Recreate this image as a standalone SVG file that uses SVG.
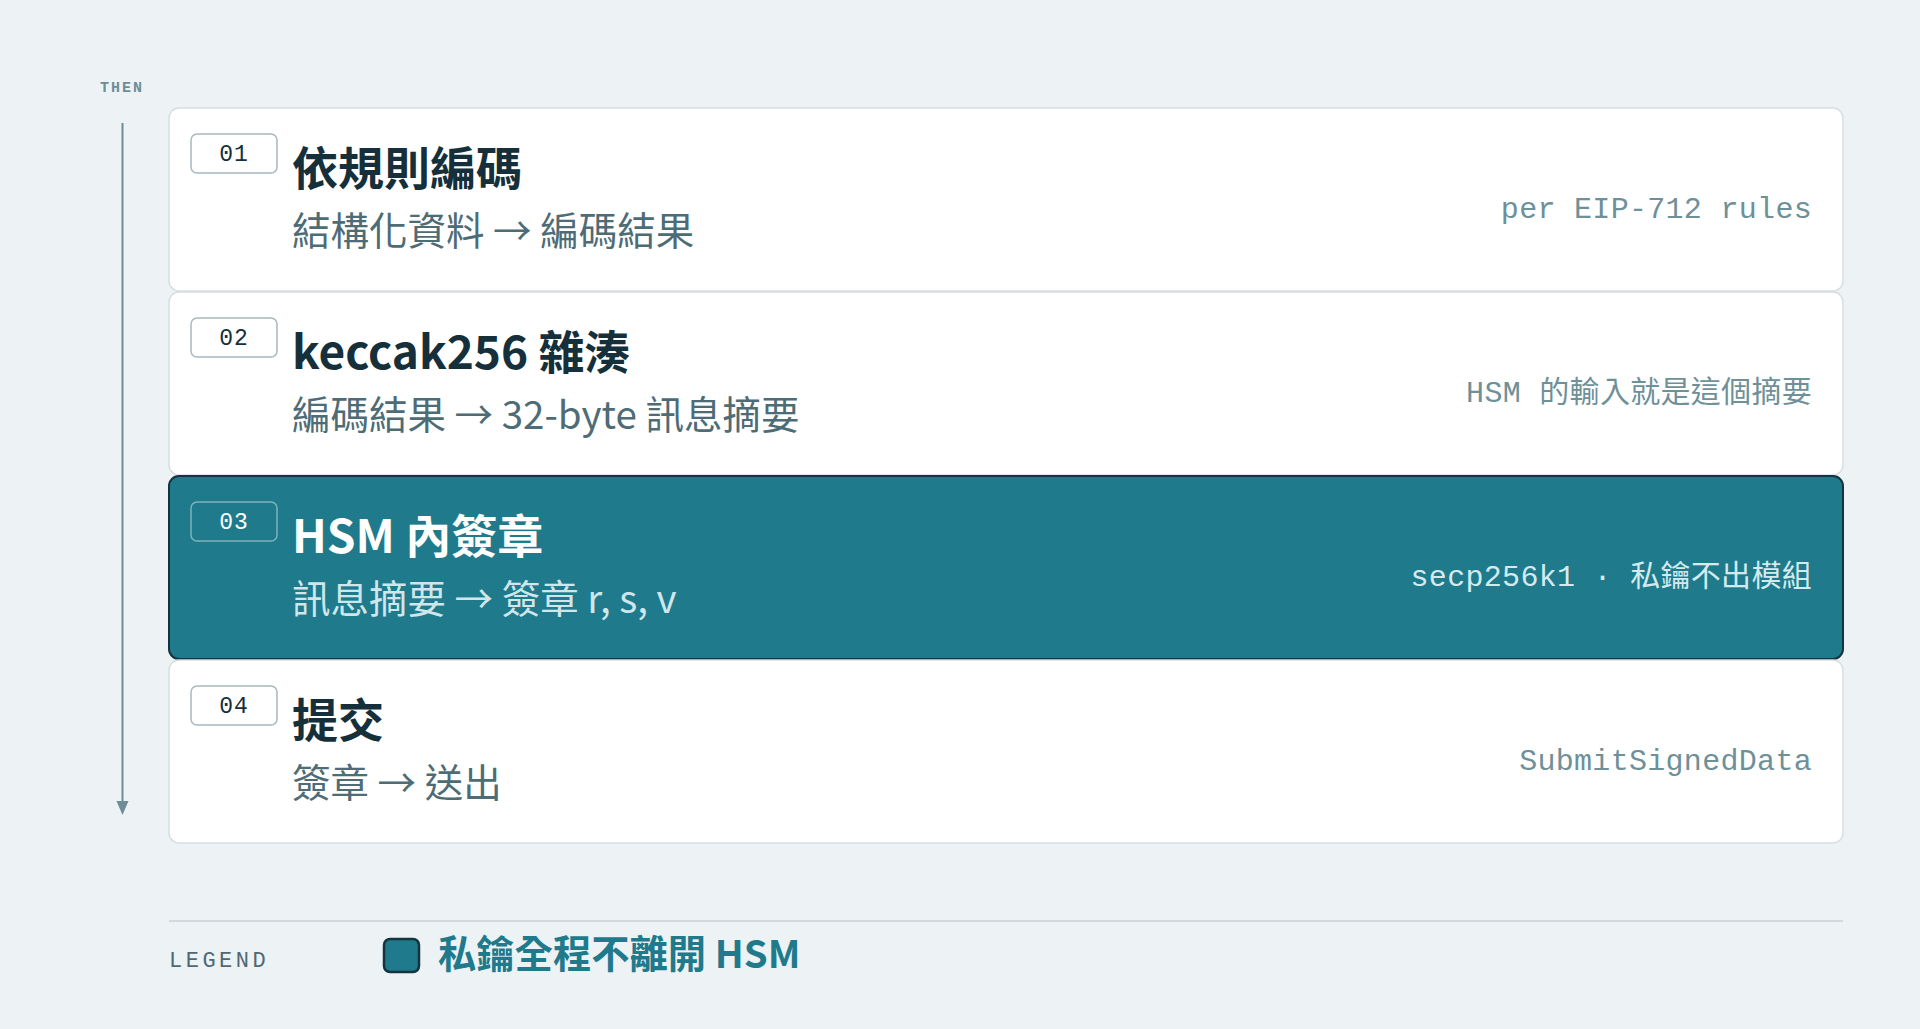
<svg xmlns="http://www.w3.org/2000/svg" width="1920" height="1029" viewBox="0 0 1920 1029">
<defs>
<style>
.card{fill:#ffffff;stroke:#d6dee2;stroke-width:1.5}
.card.hi{fill:#1f7a8c;stroke:#143540;stroke-width:2}
.badge{fill:#ffffff;stroke:#a9b8be;stroke-width:1.5}
.badge.hi{fill:#1f7a8c;stroke:#7fb3bd}
.num{font-family:"Liberation Mono","DejaVu Sans Mono",monospace;font-size:23px;fill:#15303a;text-anchor:middle;letter-spacing:1px}
.num.hi{fill:#ffffff}
.title{font-family:"Noto Sans CJK TC","Noto Sans",sans-serif;font-size:46px;font-weight:700;fill:#15303a}
.title.hi{fill:#ffffff}
.sub{font-family:"Noto Sans CJK TC","Noto Sans",sans-serif;font-size:38.5px;fill:#4d6c76}
.sub.hi{fill:#cfe6ea}
.note{font-family:"Liberation Mono","Noto Sans CJK TC",monospace;font-size:30px;fill:#6e9098;text-anchor:end;letter-spacing:0.3px}
.note.hi{fill:#d3ebef}
.cap{font-family:"Liberation Mono","DejaVu Sans Mono",monospace;fill:#6e8e97}
</style>
</defs>
<rect x="0" y="0" width="1920" height="1029" fill="#edf2f5"/>

<text class="cap" x="100" y="92" font-size="15" font-weight="700" letter-spacing="2">THEN</text>

<g id="connectors">
<line x1="122.5" y1="123" x2="122.5" y2="802" stroke="#6e8e97" stroke-width="2"/>
<path d="M116.5,801 L128.5,801 L122.5,815 Z" fill="#6e8e97"/>
</g>

<g id="step-01">
<rect class="card" x="169" y="108" width="1674" height="183" rx="10"/>
<rect class="badge" x="191" y="134" width="86" height="39" rx="6"/>
<text class="num" x="234" y="161">01</text>
<text class="title" x="292" y="185">依規則編碼</text>
<text class="sub" x="292" y="245">結構化資料 → 編碼結果</text>
<text class="note" x="1812" y="218">per EIP-712 rules</text>
</g>

<g id="step-02">
<rect class="card" x="169" y="292" width="1674" height="183" rx="10"/>
<rect class="badge" x="191" y="318" width="86" height="39" rx="6"/>
<text class="num" x="234" y="345">02</text>
<text class="title" x="292" y="369">keccak256 雜湊</text>
<text class="sub" x="292" y="429">編碼結果 → 32-byte 訊息摘要</text>
<text class="note" x="1812" y="402">HSM 的輸入就是這個摘要</text>
</g>

<g id="step-03">
<rect class="card hi" x="169" y="476" width="1674" height="183" rx="10"/>
<rect class="badge hi" x="191" y="502" width="86" height="39" rx="6"/>
<text class="num hi" x="234" y="529">03</text>
<text class="title hi" x="292" y="553">HSM 內簽章</text>
<text class="sub hi" x="292" y="613">訊息摘要 → 簽章 r, s, v</text>
<text class="note hi" x="1812" y="586">secp256k1 · 私鑰不出模組</text>
</g>

<g id="step-04">
<rect class="card" x="169" y="660" width="1674" height="183" rx="10"/>
<rect class="badge" x="191" y="686" width="86" height="39" rx="6"/>
<text class="num" x="234" y="713">04</text>
<text class="title" x="292" y="737">提交</text>
<text class="sub" x="292" y="797">簽章 → 送出</text>
<text class="note" x="1812" y="770">SubmitSignedData</text>
</g>

<g id="legend">
<line x1="169" y1="921" x2="1843" y2="921" stroke="#d3dadd" stroke-width="2"/>
<text x="169" y="967" font-family="Liberation Mono, DejaVu Sans Mono, monospace" font-size="22" letter-spacing="3.5" fill="#4f6872">LEGEND</text>
<rect x="384" y="939" width="35" height="33" rx="6" fill="#1f7a8c" stroke="#143540" stroke-width="2.5"/>
<text x="438" y="968" font-family="Noto Sans CJK TC, Noto Sans, sans-serif" font-size="38.3" font-weight="700" fill="#1f7a8c">私鑰全程不離開 HSM</text>
</g>
</svg>
